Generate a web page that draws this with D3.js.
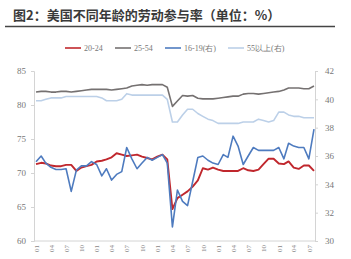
<!DOCTYPE html>
<html>
<head>
<meta charset="utf-8">
<script src="https://cdn.jsdelivr.net/npm/d3@7"></script>
<style>
  body { margin: 0; background: #fff; }
  svg { display: block; }
</style>
</head>
<body>
<svg width="351" height="259"></svg>
<script>

// monthly, 2018-01 .. 2022-08
const months = d3.timeMonth.range(new Date(2018, 0, 1), new Date(2022, 8, 1));

const age2024 = [71.3, 71.5, 71.4, 71.1, 71.0, 71.0, 71.2, 71.2, 70.3, 70.8, 71.0, 71.2,
  71.7, 71.8, 72.0, 72.3, 72.9, 72.7, 72.5, 72.6, 72.7, 72.4, 72.2, 72.0,
  72.4, 72.7, 72.0, 64.7, 66.3, 66.8, 67.3, 68.0, 68.9, 70.7, 70.5, 70.8,
  70.5, 70.3, 70.3, 70.3, 70.3, 70.7, 70.4, 70.3, 70.5, 71.3, 72.1, 72.1,
  71.4, 71.3, 71.7, 70.8, 70.6, 71.1, 71.1, 70.3];

const age2554 = [81.9, 82.0, 82.0, 81.9, 81.9, 82.0, 82.0, 81.9, 82.0, 82.1, 82.2, 82.3,
  82.3, 82.3, 82.3, 82.2, 82.3, 82.4, 82.5, 82.8, 82.9, 83.0, 82.9, 83.0,
  83.0, 83.0, 82.6, 79.8, 80.6, 81.4, 81.3, 81.4, 81.0, 80.9, 80.9, 80.9,
  81.0, 81.1, 81.2, 81.3, 81.3, 81.6, 81.7, 81.7, 81.6, 81.7, 81.8, 81.9,
  82.0, 82.2, 82.5, 82.5, 82.5, 82.4, 82.4, 82.8];

const age1619 = [35.6, 36.0, 35.5, 35.2, 35.05, 35.05, 35.1, 33.5, 35.0, 35.3, 35.3, 35.6,
  35.4, 34.6, 35.1, 34.3, 34.7, 34.9, 36.6, 35.8, 35.1, 35.5, 35.9, 35.7,
  35.9, 36.1, 35.5, 31.0, 33.6, 32.8, 32.5, 34.2, 35.9, 36.0, 35.7, 35.5,
  35.4, 36.1, 35.9, 37.4, 36.7, 35.4, 36.0, 36.6, 36.4, 36.4, 36.4, 36.4,
  36.6, 35.8, 36.9, 36.7, 36.6, 36.6, 35.8, 37.9];

const age55 = [39.9, 39.9, 40.0, 40.1, 40.1, 40.1, 40.2, 40.2, 40.2, 40.2, 40.2, 40.2,
  40.2, 40.1, 39.9, 39.9, 39.9, 40.0, 40.4, 40.3, 40.3, 40.3, 40.3, 40.3,
  40.3, 40.3, 40.0, 38.4, 38.4, 38.9, 39.3, 39.3, 39.0, 38.8, 38.6, 38.5,
  38.3, 38.3, 38.3, 38.3, 38.3, 38.4, 38.4, 38.4, 38.6, 38.5, 38.4, 38.5,
  39.1, 39.1, 38.9, 38.8, 38.8, 38.7, 38.7, 38.7];

const leftTicks = [60, 65, 70, 75, 80, 85];
const rightTicks = [30, 32, 34, 36, 38, 40, 42];

const series = [
  { name: '20-24', values: age2024, axis: 'left', color: '#c0272d' },
  { name: '25-54', values: age2554, axis: 'left', color: '#757171' },
  { name: '16-19(右)', values: age1619, axis: 'right', color: '#4e7bbf' },
  { name: '55以上(右)', values: age55, axis: 'right', color: '#bcd0e8' }
];

const svg = d3.select('svg');
const margin = { left: 34, right: 315, top: 71, bottom: 241 };

// title
svg.append('text')
  .attr('x', 13).attr('y', 20)
  .attr('font-family', '"Noto Sans CJK SC", sans-serif')
  .attr('font-size', 13).attr('font-weight', 'bold')
  .attr('fill', '#3a3a3a')
  .text('图2：美国不同年龄的劳动参与率（单位：%）');

svg.append('line')
  .attr('x1', 5).attr('x2', 335).attr('y1', 26.5).attr('y2', 26.5)
  .attr('stroke', '#444').attr('stroke-width', 1.5);

const x = d3.scaleTime()
  .domain(d3.extent(months))
  .range([36, 314]);

const yL = d3.scaleLinear().domain([60, 85]).range([margin.bottom, margin.top]);
const yR = d3.scaleLinear().domain([30, 42]).range([margin.bottom, margin.top]);

const axisFont = '"Liberation Serif", serif';

// left axis
const gL = svg.append('g')
  .attr('transform', `translate(${margin.left},0)`)
  .call(d3.axisLeft(yL).tickValues(leftTicks).tickSize(3).tickPadding(5));

// right axis
const gR = svg.append('g')
  .attr('transform', `translate(${margin.right},0)`)
  .call(d3.axisRight(yR).tickValues(rightTicks).tickSize(3).tickPadding(7));

// bottom axis, a tick each quarter
const quarters = months.filter(d => d.getMonth() % 3 === 0);
const gB = svg.append('g')
  .attr('transform', `translate(0,${margin.bottom})`)
  .call(d3.axisBottom(x).tickValues(quarters).tickSize(0).tickFormat(d3.timeFormat('%m')));

gB.select('.domain').attr('d', `M${margin.left},0H${margin.right}`);
gB.selectAll('text')
  .attr('transform', 'rotate(-90)')
  .attr('text-anchor', 'end')
  .attr('dx', -4).attr('dy', '0.32em')
  .attr('y', 0);

[gL, gR, gB].forEach(g => {
  g.select('.domain').attr('stroke', '#d4d4d4');
  g.selectAll('.tick line').attr('stroke', '#d4d4d4');
  g.selectAll('text')
    .attr('fill', '#777')
    .attr('font-family', axisFont)
    .attr('font-size', 9);
});
gB.selectAll('text').attr('font-size', 7).attr('fill', '#888');

// lines
series.forEach(s => {
  const y = s.axis === 'left' ? yL : yR;
  const line = d3.line()
    .x((d, i) => x(months[i]))
    .y(d => y(d));
  svg.append('path')
    .datum(s.values)
    .attr('fill', 'none')
    .attr('stroke', s.color)
    .attr('stroke-width', s.axis === 'left' && s.name === '20-24' ? 1.9 : 1.6)
    .attr('stroke-linejoin', 'round')
    .attr('d', line);
});

// legend
const legendX = [65, 115, 165, 228];
const legend = svg.append('g');
series.forEach((s, i) => {
  const g = legend.append('g').attr('transform', `translate(${legendX[i]},48)`);
  g.append('line')
    .attr('x1', 0).attr('x2', 16)
    .attr('stroke', s.color).attr('stroke-width', 1.6);
  g.append('text')
    .attr('x', 19).attr('y', 3)
    .attr('font-family', axisFont)
    .attr('font-size', 8)
    .attr('fill', '#777')
    .text(s.name);
});

</script>
</body>
</html>
